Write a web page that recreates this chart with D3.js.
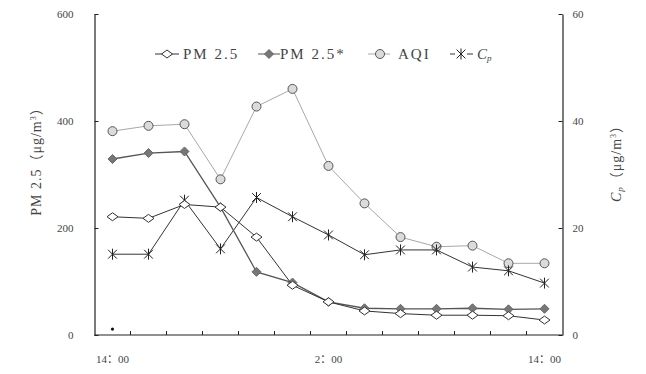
<!DOCTYPE html>
<html>
<head>
<meta charset="utf-8">
<script src="https://cdn.jsdelivr.net/npm/d3@7"></script>
<style>
  body { margin: 0; background: #fff; }
  text { font-family: "Liberation Serif", "Noto Sans CJK SC", serif; fill: #444; }
</style>
</head>
<body>
<svg id="chart" width="646" height="374"></svg>
<script>
// hours from 14:00 to 14:00 next day, every 2 h
const hours = ['14:00','16:00','18:00','20:00','22:00','0:00','2:00','4:00','6:00','8:00','10:00','12:00','14:00']
const tickLabels = ['14：00','','','','','','2：00','','','','','','14：00']
const leftTicks = [0, 200, 400, 600]
const rightTicks = [0, 20, 40, 60]

const pm25 = [221, 218, 244, 239, 183, 93, 62, 45, 40, 37, 37, 36, 28]
const pm25star = [329, 340, 343, 239, 118, 98, 62, 50, 49, 49, 50, 48, 49]
const aqi = [381, 391, 394, 291, 427, 460, 316, 246, 183, 165, 167, 134, 134]
const cp = [15.1, 15.1, 25.2, 16.1, 25.7, 22.1, 18.7, 15.0, 15.9, 15.9, 12.7, 12.0, 9.7]
const strayDot = [11]

const svg = d3.select('#chart')
const plotL = 94.5, plotR = 562.5, plotT = 14, plotB = 335

const x = d3.scaleBand().domain(d3.range(hours.length)).range([plotL, plotR])
const cx = i => x(i) + x.bandwidth() / 2
const yL = d3.scaleLinear().domain([0, 600]).range([plotB, plotT])
const yR = d3.scaleLinear().domain([0, 60]).range([plotB, plotT])

// marker shapes
const diamond = (w, h) => `M0,${-h}L${w},0L0,${h}L${-w},0Z`
const star = r => `M0,${-r}V${r}M${-r * 0.8},${-r * 0.8}L${r * 0.8},${r * 0.8}M${-r * 0.8},${r * 0.8}L${r * 0.8},${-r * 0.8}`

// axes
const gL = svg.append('g').attr('transform', `translate(${plotL},0)`)
  .call(d3.axisLeft(yL).tickValues(leftTicks).tickSizeInner(-4).tickSizeOuter(0).tickPadding(21))
const gR = svg.append('g').attr('transform', `translate(${plotR},0)`)
  .call(d3.axisRight(yR).tickValues(rightTicks).tickSizeInner(-4).tickSizeOuter(0).tickPadding(10))
;[gL, gR].forEach(g => {
  g.select('.domain').attr('stroke', '#222').attr('stroke-width', 1.2)
  g.selectAll('.tick line').attr('stroke', '#222')
  g.selectAll('.tick text').style('font-size', '11px').attr('fill', '#555')
    .style('font-family', '"Liberation Serif", serif')
})

svg.append('line').attr('x1', plotL).attr('x2', plotR).attr('y1', plotB).attr('y2', plotB)
  .attr('stroke', '#222').attr('stroke-width', 1.2)
svg.selectAll('.xtick').data(d3.range(1, hours.length)).enter().append('line')
  .attr('x1', d => x(d)).attr('x2', d => x(d))
  .attr('y1', plotB).attr('y2', plotB - 4)
  .attr('stroke', '#222')
svg.selectAll('.xlabel').data(tickLabels).enter().append('text')
  .attr('x', (d, i) => cx(i)).attr('y', 363)
  .attr('text-anchor', 'middle')
  .style('font-size', '11px').attr('fill', '#555')
  .text(d => d)

// axis titles
const lt = svg.append('text').attr('transform', 'translate(41,158) rotate(-90)')
  .attr('text-anchor', 'middle').style('font-size', '14px').style('letter-spacing', '1px')
lt.append('tspan').text('PM 2.5（μg/m')
lt.append('tspan').text('3').style('font-size', '8px').attr('dy', -5)
lt.append('tspan').text('）').attr('dy', 5)

const rt = svg.append('text').attr('transform', 'translate(621,160) rotate(-90)')
  .attr('text-anchor', 'middle').style('font-size', '14px').style('letter-spacing', '1px')
rt.append('tspan').text('C').style('font-style', 'italic')
rt.append('tspan').text('p').style('font-style', 'italic').style('font-size', '9px').attr('dy', 2)
rt.append('tspan').text('（μg/m').attr('dy', -2)
rt.append('tspan').text('3').style('font-size', '8px').attr('dy', -5)
rt.append('tspan').text('）').attr('dy', 5)

// series
const series = [
  { name: 'AQI', values: aqi, y: yL, line: '#a8a8a8', width: 1, marker: 'circle', fill: '#d9dcd9', stroke: '#555' },
  { name: 'Cp', values: cp, y: yR, line: '#333', width: 1, marker: 'star', fill: 'none', stroke: '#222' },
  { name: 'PM 2.5*', values: pm25star, y: yL, line: '#555', width: 1.3, marker: 'fdiamond', fill: '#777', stroke: '#666' },
  { name: 'PM 2.5', values: pm25, y: yL, line: '#333', width: 1, marker: 'odiamond', fill: '#fff', stroke: '#333' }
]

const drawMarker = (sel, s) => {
  if (s.marker === 'circle') {
    sel.append('circle').attr('r', 4.5).attr('fill', s.fill).attr('stroke', s.stroke).attr('stroke-width', 1)
  } else if (s.marker === 'star') {
    sel.append('path').attr('d', star(5.5)).attr('fill', 'none').attr('stroke', s.stroke).attr('stroke-width', 1)
  } else if (s.marker === 'fdiamond') {
    sel.append('path').attr('d', diamond(4.5, 4.5)).attr('fill', s.fill).attr('stroke', s.stroke)
  } else {
    sel.append('path').attr('d', diamond(5.5, 4)).attr('fill', s.fill).attr('stroke', s.stroke)
  }
}

series.forEach(s => {
  const line = d3.line().x((d, i) => cx(i)).y(d => s.y(d))
  svg.append('path').datum(s.values).attr('d', line)
    .attr('fill', 'none').attr('stroke', s.line).attr('stroke-width', s.width)
  svg.selectAll(null).data(s.values).enter().append('g')
    .attr('transform', (d, i) => `translate(${cx(i)},${s.y(d)})`)
    .each(function () { drawMarker(d3.select(this), s) })
})

svg.selectAll('.stray').data(strayDot).enter().append('circle')
  .attr('cx', cx(0)).attr('cy', d => yL(d)).attr('r', 1.6).attr('fill', '#111')

// legend
const legend = [
  { s: series[3], x1: 155, x2: 179, mx: 167, tx: 183 },
  { s: series[2], x1: 258, x2: 280, mx: 269, tx: 280 },
  { s: series[0], x1: 368, x2: 390, mx: 380, tx: 398 },
  { s: series[1], x1: 450, x2: 473, mx: 461, tx: 477 }
]
const ly = 54
legend.forEach(l => {
  const g = svg.append('g')
  if (l.s.marker === 'star') {
    g.append('line').attr('x1', l.x1).attr('x2', l.mx - 6).attr('y1', ly).attr('y2', ly).attr('stroke', '#333')
    g.append('line').attr('x1', l.mx + 6).attr('x2', l.x2).attr('y1', ly).attr('y2', ly).attr('stroke', '#333')
  } else {
    g.append('line').attr('x1', l.x1).attr('x2', l.x2).attr('y1', ly).attr('y2', ly).attr('stroke', l.s.line)
  }
  const m = g.append('g').attr('transform', `translate(${l.mx},${ly})`)
  drawMarker(m, l.s)
  if (l.s.name === 'Cp') {
    const t = g.append('text').attr('x', l.tx).attr('y', ly + 5).style('font-size', '15px')
    t.append('tspan').text('C').style('font-style', 'italic')
    t.append('tspan').text('p').style('font-style', 'italic').style('font-size', '9px').attr('dy', 2)
  } else {
    g.append('text').attr('x', l.tx).attr('y', ly + 5).style('font-size', '15px')
      .style('letter-spacing', '2px').text(l.s.name)
  }
})
</script>
</body>
</html>
